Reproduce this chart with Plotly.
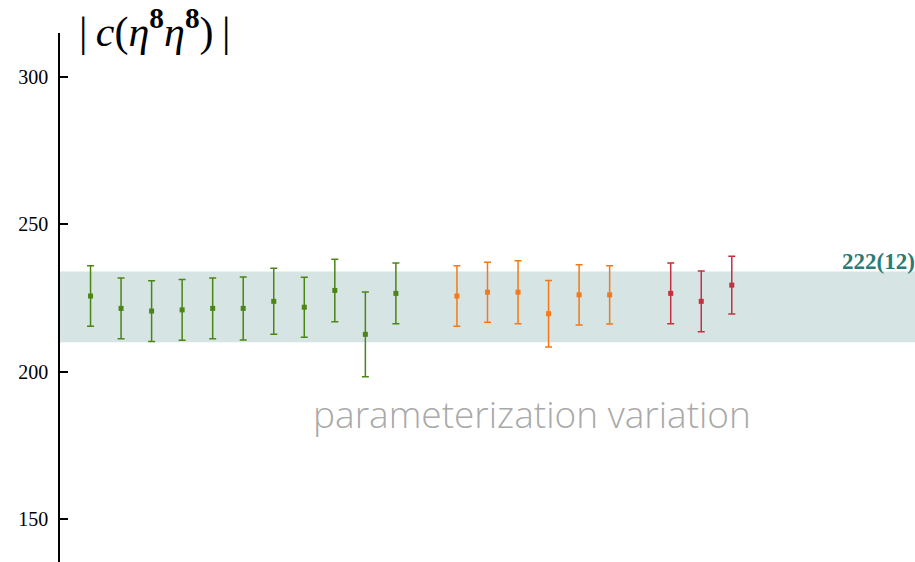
import plotly.graph_objects as go

# Fit results per parameterization, grouped by family
green_x = [1, 2, 3, 4, 5, 6, 7, 8, 9, 10, 11]
green_val = [225.7, 221.5, 220.6, 221.0, 221.5, 221.5, 223.9, 221.9, 227.6, 212.7, 226.6]
green_err = [10.3, 10.3, 10.3, 10.3, 10.3, 10.7, 11.2, 10.2, 10.6, 14.4, 10.3]

orange_x = [13, 14, 15, 16, 17, 18]
orange_val = [225.7, 227.0, 227.0, 219.7, 226.1, 226.1]
orange_err = [10.3, 10.2, 10.7, 11.3, 10.2, 9.9]

red_x = [20, 21, 22]
red_val = [226.6, 223.9, 229.4]
red_err = [10.3, 10.3, 9.8]

# Final averaged result
final_val = 222
final_err = 12
final_label = "222(12)"

y_ticks = [150, 200, 250, 300]

fig = go.Figure()

# Shaded band for the final result
fig.add_shape(type="rect", xref="paper", yref="y", x0=0, x1=1,
              y0=final_val - final_err, y1=final_val + final_err,
              fillcolor="#d6e4e4", line_width=0, layer="below")

for xs, vals, errs, col in [
    (green_x, green_val, green_err, "#4a8515"),
    (orange_x, orange_val, orange_err, "#f27a1a"),
    (red_x, red_val, red_err, "#c4303e"),
]:
    fig.add_trace(go.Scatter(
        x=xs, y=vals, mode="markers",
        marker=dict(symbol="square", size=5, color=col),
        error_y=dict(type="data", array=errs, visible=True,
                     color=col, thickness=1.5, width=3.5),
        showlegend=False, hoverinfo="skip",
    ))

fig.add_annotation(
    text="parameterization variation", x=15.45, y=185.9, xref="x", yref="y",
    showarrow=False,
    font=dict(family="Open Sans", size=37, weight=300, color="#a9a9a9"),
)

fig.add_annotation(
    text="<b>" + final_label + "</b>", x=1, y=final_val + final_err,
    xref="paper", yref="y", xanchor="right", yanchor="bottom",
    showarrow=False, yshift=-4, xshift=2,
    font=dict(family="Liberation Serif", size=23, color="#2a7a78"),
)

fig.add_annotation(
    text="|\u2009<i>c</i>(<i>\u03b7</i><sup><b>8</b></sup><i>\u03b7</i><sup><b>8</b></sup>)\u2009|",
    x=0.02, y=1.0, xref="paper", yref="paper", xanchor="left", yanchor="middle",
    showarrow=False, yshift=4,
    font=dict(family="Liberation Serif", size=42, color="black"),
)

fig.update_xaxes(range=[0, 28], visible=False, showgrid=False, zeroline=False)
fig.update_yaxes(
    range=[135.4, 315], tickvals=y_ticks, showgrid=False, zeroline=False,
    showline=True, linecolor="black", linewidth=1.5,
    ticks="inside", ticklen=8, tickwidth=1.5, tickcolor="black",
    ticklabelstandoff=6,
    tickfont=dict(family="Liberation Serif", size=20, color="black"),
)

fig.update_layout(
    width=915, height=562,
    margin=dict(l=60, r=0, t=33, b=0),
    plot_bgcolor="white", paper_bgcolor="white",
)

fig.write_html("out.html")
